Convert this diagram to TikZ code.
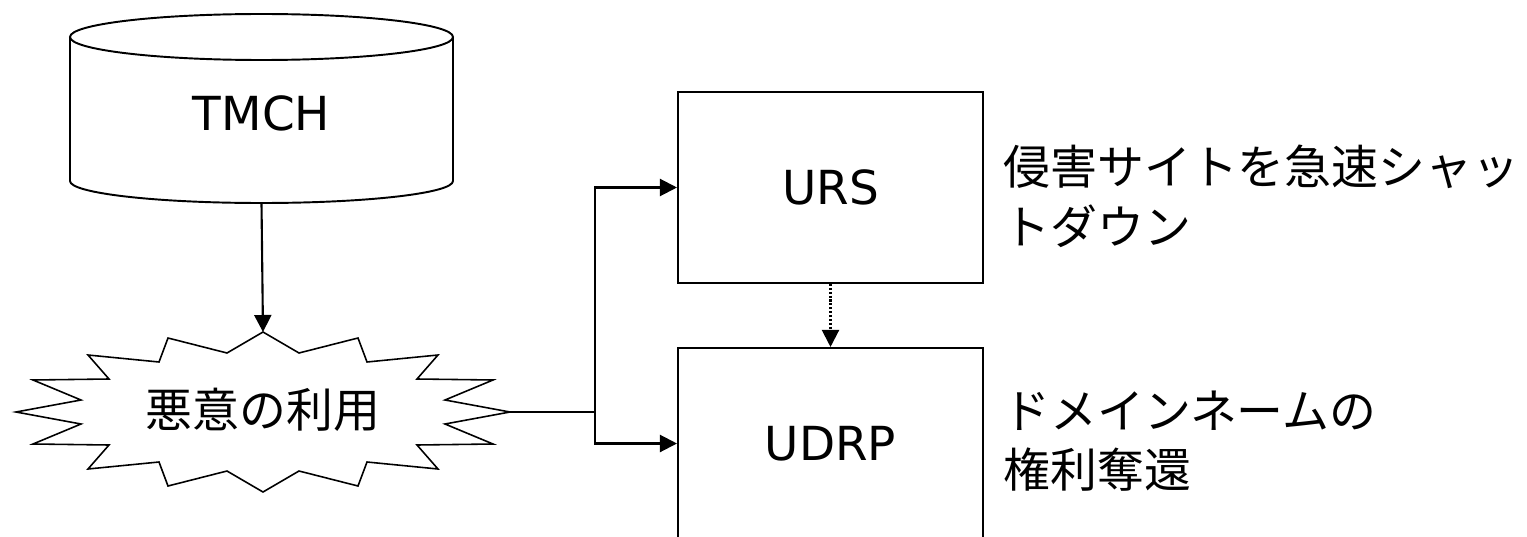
\documentclass[tikz,border=0pt]{standalone}
\usepackage{fontspec}
\setmainfont{DejaVu Sans}
\newfontfamily\jpfont{Noto Sans CJK JP}
\usetikzlibrary{arrows.meta}

\begin{document}
\begin{tikzpicture}[x=0.02cm, y=-0.02cm, font=\fontsize{26.7}{34}\selectfont]

\tikzset{box/.style = {shape=rectangle, draw, line width=1.2pt, minimum width=6.1cm, minimum height=3.82cm}}
\tikzset{edge/.style = {->, > = {Triangle[length=0.34cm, width=0.34cm]}, line width=1.2pt}}
\tikzset{note/.style = {anchor=west, align=left, inner sep=0pt, font=\jpfont\fontsize{26.7}{34}\selectfont}}
\tikzset{burst/.style = {line width=0.9pt, line join=miter, shift={(263,412)}}}

\useasboundingbox (0,0) rectangle (1527,537);
\clip (0,0) rectangle (1527,537);
%database
\draw[line width=1.1pt] (70,37) -- (70,181) arc[start angle=180, end angle=0, x radius=191.5, y radius=22] -- (453,37);
\draw[line width=1.1pt] (261.5,37) ellipse[x radius=191.5, y radius=23];
%starburst
\draw[burst] (0,-80) -- (36,-59) -- (95,-74) -- (104,-50) -- (175,-57) -- (154,-33) -- (230,-32) -- (182,-12)
  -- (247,0) -- (182,12) -- (230,32) -- (154,33) -- (175,57) -- (104,50) -- (95,74) -- (36,59)
  -- (0,80) -- (-36,59) -- (-95,74) -- (-104,50) -- (-175,57) -- (-154,33) -- (-230,32) -- (-182,12)
  -- (-247,0) -- (-182,-12) -- (-230,-32) -- (-154,-33) -- (-175,-57) -- (-104,-50) -- (-95,-74) -- (-36,-59) -- cycle;
%nodes
\node (tmch) at (261.5,113) {TMCH};
\coordinate (tmchbase) at (261.5,203);
\node[font=\jpfont\fontsize{26.7}{34}\selectfont] (misuse) at (263,410) {悪意の利用};
\coordinate (misusetop) at (263,332);
\coordinate (misuseright) at (510,412);
\coordinate (fork) at (595,412);
\node[box] (urs) at (830.5,187.5) {URS};
\node[box] (udrp) at (830.5,443.5) {UDRP};
\node[note] (ursnote) at (1003,196) {侵害サイトを急速シャッ\\トダウン};
\node[note] (udrpnote) at (1003,441) {ドメインネームの\\権利奪還};
%edges
\draw[edge] (tmchbase) -- (misusetop);
\draw[edge] (misuseright) -- (fork) |- (urs);
\draw[edge] (fork) |- (udrp);
\draw[edge, densely dotted] (urs) -- (udrp);

\end{tikzpicture}
\end{document}
